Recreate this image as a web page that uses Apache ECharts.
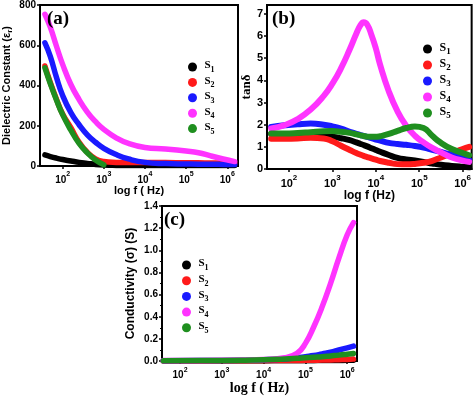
<!DOCTYPE html>
<html><head><meta charset="utf-8">
<script src="https://cdn.jsdelivr.net/npm/echarts@6/dist/echarts.min.js"></script>
<style>html,body{margin:0;padding:0;background:#fff}#c{width:474px;height:396px}</style>
</head><body><div id="c"></div>
<script>
// ---------- data ----------
const seriesNames = ['S1', 'S2', 'S3', 'S4', 'S5'];
const seriesColors = ['#000000', '#ff1a1a', '#1a1aff', '#ff33ff', '#1f8f1f'];
const xTickExponents = [2, 3, 4, 5, 6];

// Panel (a): dielectric constant vs log f
const logF_a = [1.57, 1.7, 1.85, 2.0, 2.2, 2.4, 2.6, 2.8, 3.0, 3.3, 3.6, 4.0, 4.5, 5.0, 5.3, 5.6, 5.9, 6.18];
const eps_S1 = [55, 47, 39, 32, 25, 18, 13, 8, 5, 3, 2, 2, 2, 2, 2, 2, 2, 2];
const eps_S2 = [497, 415, 332, 258, 190, 118, 68, 35, 22, 18, 17, 17, 17, 16, 16, 15, 15, 14];
const eps_S3 = [612, 545, 440, 350, 265, 205, 155, 118, 88, 57, 35, 18, 12, 10, 9, 9, 8, 7];
const eps_S4 = [754, 690, 595, 505, 405, 330, 268, 220, 182, 140, 112, 92, 84, 74, 66, 50, 35, 22];
const eps_S5 = [488, 410, 328, 255, 178, 112, 65, 30, 6, null, null, null, null, null, null, null, null, null];
const yTicks_a = [0, 200, 400, 600, 800];

// Panel (b): tan delta vs log f
const logF_b = [1.59, 1.9, 2.2, 2.5, 2.8, 3.0, 3.2, 3.4, 3.55, 3.65, 3.72, 3.8, 3.9, 4.0, 4.1, 4.3, 4.5, 4.7, 4.9, 5.1, 5.3, 5.5, 5.75, 6.0, 6.15];
const tan_S1 = [1.58, 1.56, 1.55, 1.53, 1.5, 1.46, 1.39, 1.3, 1.2, 1.13, 1.08, 1.02, 0.94, 0.86, 0.78, 0.63, 0.5, 0.43, 0.38, 0.32, 0.25, 0.19, 0.14, 0.1, 0.08];
const tan_S2 = [1.37, 1.37, 1.38, 1.41, 1.38, 1.25, 1.05, 0.86, 0.72, 0.64, 0.59, 0.54, 0.48, 0.42, 0.36, 0.28, 0.22, 0.21, 0.23, 0.28, 0.37, 0.52, 0.72, 0.9, 1.0];
const tan_S3 = [1.9, 1.97, 2.02, 2.05, 2.0, 1.92, 1.82, 1.68, 1.59, 1.53, 1.49, 1.45, 1.39, 1.33, 1.28, 1.18, 1.13, 1.09, 1.04, 0.97, 0.87, 0.77, 0.64, 0.5, 0.4];
const tan_S4 = [1.83, 1.98, 2.25, 2.68, 3.3, 3.85, 4.55, 5.4, 6.1, 6.5, 6.62, 6.52, 6.05, 5.45, 4.7, 3.5, 2.6, 1.95, 1.5, 1.2, 0.95, 0.75, 0.52, 0.38, 0.32];
const tan_S5 = [1.6, 1.6, 1.62, 1.66, 1.7, 1.71, 1.68, 1.63, 1.56, 1.52, 1.49, 1.46, 1.45, 1.45, 1.48, 1.58, 1.72, 1.85, 1.92, 1.85, 1.5, 1.18, 0.9, 0.72, 0.62];
const yTicks_b = [0, 1, 2, 3, 4, 5, 6, 7];

// Panel (c): conductivity vs log f
const logF_c = [1.6, 2.5, 3.5, 4.0, 4.5, 4.8, 5.0, 5.2, 5.4, 5.6, 5.8, 6.0, 6.15];
const sig_S1 = [0.001, 0.001, 0.002, 0.002, 0.003, 0.003, 0.004, 0.004, 0.005, 0.005, 0.006, 0.007, 0.008];
const sig_S2 = [0.002, 0.002, 0.003, 0.004, 0.005, 0.006, 0.007, 0.008, 0.009, 0.011, 0.013, 0.015, 0.018];
const sig_S3 = [0.004, 0.005, 0.008, 0.012, 0.02, 0.03, 0.04, 0.05, 0.065, 0.08, 0.1, 0.12, 0.135];
const sig_S4 = [0.005, 0.006, 0.01, 0.015, 0.03, 0.07, 0.16, 0.31, 0.49, 0.7, 0.93, 1.14, 1.25];
const sig_S5 = [0.004, 0.005, 0.008, 0.012, 0.02, 0.025, 0.03, 0.035, 0.04, 0.047, 0.054, 0.062, 0.068];

// ---------- helpers ----------
const SANS = '"Liberation Sans", Arial, sans-serif';
const SERIF = '"Liberation Serif", "Times New Roman", serif';
const zip = (xs, ys) => xs.map((x, i) => [x, ys[i]]);

function xAxis(gridIndex, min, max, name, nameFont, nameSize, nameGap, labelSize) {
  return {
    type: 'value', gridIndex, min, max,
    name, nameLocation: 'middle', nameGap,
    nameTextStyle: { fontFamily: nameFont, fontWeight: 'bold', fontSize: nameSize, color: '#000' },
    axisLine: { show: true, lineStyle: { color: '#000', width: 2 } },
    axisTick: { show: true, customValues: xTickExponents, length: 3, lineStyle: { color: '#000', width: 1.5 } },
    axisLabel: {
      customValues: xTickExponents, margin: 5, color: '#000',
      formatter: v => '{b|10}{sup|' + v + '}',
      rich: {
        b: { fontFamily: SANS, fontWeight: 'bold', fontSize: labelSize, verticalAlign: 'bottom', lineHeight: labelSize + 4, color: '#000' },
        sup: { fontFamily: SANS, fontWeight: 'bold', fontSize: labelSize - 3, verticalAlign: 'top', lineHeight: labelSize + 4, color: '#000' }
      }
    },
    splitLine: { show: false }
  };
}
function yAxis(gridIndex, min, max, ticks, fmt, name, nameFont, nameSize, nameGap, labelSize) {
  const ax = {
    type: 'value', gridIndex, min, max,
    name, nameLocation: 'middle', nameGap, nameRotate: 90,
    nameTextStyle: {
      fontFamily: nameFont, fontWeight: 'bold', fontSize: nameSize, color: '#000',
      rich: { sub: { fontFamily: nameFont, fontWeight: 'bold', fontSize: nameSize - 3, verticalAlign: 'bottom', lineHeight: nameSize + 4, color: '#000' } }
    },
    axisLine: { show: true, lineStyle: { color: '#000', width: 2 } },
    axisTick: { show: true, length: 3, lineStyle: { color: '#000', width: 1.5 } },
    axisLabel: { margin: 4, color: '#000', fontFamily: SANS, fontWeight: 'bold', fontSize: labelSize, formatter: fmt },
    splitLine: { show: false }
  };
  if (ticks) { ax.axisTick.customValues = ticks; ax.axisLabel.customValues = ticks; }
  return ax;
}
function legend(left, top, gap, sSize, subSize) {
  return {
    orient: 'vertical', left, top, itemGap: gap, icon: 'circle', itemWidth: 14, itemHeight: 9,
    selectedMode: false, data: seriesNames,
    formatter: n => '{s|S}{sub|' + n.slice(1) + '}',
    textStyle: {
      rich: {
        s: { fontFamily: SERIF, fontWeight: 'bold', fontSize: sSize, color: '#000', verticalAlign: 'top', lineHeight: 14 },
        sub: { fontFamily: SERIF, fontWeight: 'bold', fontSize: subSize, color: '#000', verticalAlign: 'bottom', lineHeight: 14 }
      }
    }
  };
}
function lines(gridIndex, xs, ysList, width) {
  return ysList.map((ys, i) => ({
    type: 'line', name: seriesNames[i], xAxisIndex: gridIndex, yAxisIndex: gridIndex,
    data: zip(xs, ys), smooth: true, showSymbol: false, symbol: 'none',
    lineStyle: { color: seriesColors[i], width, cap: 'round', join: 'round' }, itemStyle: { color: seriesColors[i] },
    z: 2 + i, animation: false
  }));
}

const border = { show: true, borderColor: '#000', borderWidth: 2, backgroundColor: 'transparent' };

const option = {
  backgroundColor: '#fff',
  animation: false,
  grid: [
    Object.assign({ left: 35, top: 5, width: 203, height: 161 }, border),
    Object.assign({ left: 267, top: 5, width: 205, height: 164 }, border),
    Object.assign({ left: 162, top: 206, width: 195, height: 157 }, border)
  ],
  xAxis: [
    xAxis(0, 1.45, 6.26, 'log f ( Hz)', SANS, 11, 18, 10),
    xAxis(1, 1.494, 6.207, 'log f (Hz)', SANS, 12, 20, 11),
    xAxis(2, 1.569, 6.234, 'log f ( Hz)', SERIF, 14, 19, 10)
  ],
  yAxis: [
    yAxis(0, 0, 800, yTicks_a, v => String(v), 'Dielectric Constant (ε{sub|r})', SANS, 11, 26, 10),
    yAxis(1, 0, 7.4, yTicks_b, v => String(v), 'tanδ', SERIF, 13, 13, 11),
    Object.assign(yAxis(2, 0, 1.4, null, v => v.toFixed(1), 'Conductivity (σ) (S)', SANS, 12, 25, 10), {
      interval: 0.2,
      minorTick: { show: true, splitNumber: 2, length: 2, lineStyle: { color: '#000' } }
    })
  ],
  legend: [
    legend(183, 55, 1.4, 11, 8),
    legend(418, 37, 2, 12, 9),
    legend(177, 253, 1.7, 11, 8)
  ],
  graphic: [
    { type: 'text', left: 47, top: 10, z: 100, style: { text: '(a)', font: 'bold 19px ' + SERIF, fill: '#000' } },
    { type: 'text', left: 272, top: 10, z: 100, style: { text: '(b)', font: 'bold 19px ' + SERIF, fill: '#000' } },
    { type: 'text', left: 164, top: 211, z: 100, style: { text: '(c)', font: 'bold 19px ' + SERIF, fill: '#000' } }
  ],
  series: [].concat(
    lines(0, logF_a, [eps_S1, eps_S2, eps_S3, eps_S4, eps_S5], 5.5),
    lines(1, logF_b, [tan_S1, tan_S2, tan_S3, tan_S4, tan_S5], 6),
    lines(2, logF_c, [sig_S1, sig_S2, sig_S3, sig_S4, sig_S5], 5.5)
  )
};

const chart = echarts.init(document.getElementById('c'), null, { renderer: 'canvas' });
chart.setOption(option);
</script></body></html>
